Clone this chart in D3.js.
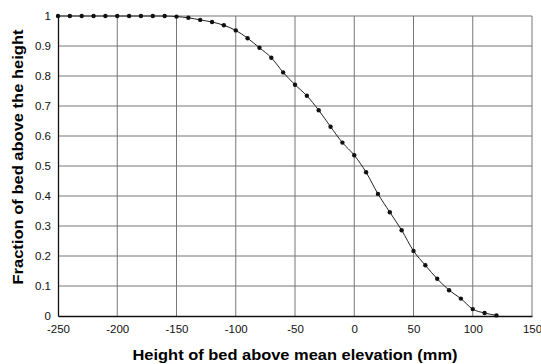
<!DOCTYPE html>
<html>
<head>
<meta charset="utf-8">
<script src="https://cdn.jsdelivr.net/npm/d3@7"></script>
<style>
  body { margin: 0; background: #fff; }
  text { font-family: "Liberation Sans", Arial, sans-serif; }
</style>
</head>
<body>
<svg width="541" height="364"></svg>
<script>
// elevation (mm) and fraction of bed above it
const heights = [-250, -240, -230, -220, -210, -200, -190, -180, -170, -160,
  -150, -140, -130, -120, -110, -100, -90, -80, -70, -60, -50, -40, -30, -20, -10,
  0, 10, 20, 30, 40, 50, 60, 70, 80, 90, 100, 110, 120];
const fractions = [1, 1, 1, 1, 1, 1, 1, 1, 1, 1,
  0.998, 0.994, 0.987, 0.98, 0.969, 0.952, 0.926, 0.894, 0.861, 0.812, 0.771, 0.734, 0.686, 0.631, 0.578,
  0.536, 0.479, 0.407, 0.346, 0.286, 0.217, 0.169, 0.124, 0.086, 0.058, 0.023, 0.01, 0.002];
const xTicks = [-250, -200, -150, -100, -50, 0, 50, 100, 150];
const yTicks = [0, 0.1, 0.2, 0.3, 0.4, 0.5, 0.6, 0.7, 0.8, 0.9, 1];

const svg = d3.select("svg");
const data = heights.map((h, i) => ({h: h, f: fractions[i]}));

const x = d3.scaleLinear().domain([-250, 150]).range([58, 532]);
const y = d3.scaleLinear().domain([0, 1]).range([316, 16]);

// grid
svg.append("g").selectAll("line")
    .data(yTicks.slice(1))
    .enter().append("line")
    .attr("x1", x(-250)).attr("x2", x(150))
    .attr("y1", d => y(d)).attr("y2", d => y(d))
    .attr("stroke", "#777").attr("stroke-width", 1);

svg.append("g").selectAll("line")
    .data(xTicks.slice(1))
    .enter().append("line")
    .attr("x1", d => x(d)).attr("x2", d => x(d))
    .attr("y1", y(0)).attr("y2", y(1))
    .attr("stroke", "#777").attr("stroke-width", 1);

// axes
const xAxis = svg.append("g")
    .attr("transform", `translate(0,${y(0)})`)
    .call(d3.axisBottom(x).tickValues(xTicks).tickSize(0).tickFormat(d => String(d)));
const yAxis = svg.append("g")
    .attr("transform", `translate(${x(-250)},0)`)
    .call(d3.axisLeft(y).tickValues(yTicks).tickSize(0).tickFormat(d => d === 0 || d === 1 ? String(d) : d3.format(".1f")(d)));

[xAxis, yAxis].forEach(a => {
  a.select(".domain").attr("stroke", "#111").attr("stroke-width", 1.3);
  a.selectAll(".tick text")
      .style("font-size", "11.5px")
      .style("font-family", "'Liberation Sans', Arial, sans-serif")
      .attr("fill", "#111");
});
xAxis.selectAll(".tick text").attr("dy", "0.71em").attr("y", 9);
yAxis.selectAll(".tick text").attr("x", -7);

// curve
svg.append("path")
    .datum(data)
    .attr("fill", "none")
    .attr("stroke", "#222")
    .attr("stroke-width", 1)
    .attr("d", d3.line().x(d => x(d.h)).y(d => y(d.f)).curve(d3.curveMonotoneX));

svg.append("g").selectAll("circle")
    .data(data)
    .enter().append("circle")
    .attr("cx", d => x(d.h))
    .attr("cy", d => y(d.f))
    .attr("r", 2.2)
    .attr("fill", "#111");

// labels
svg.append("text")
    .attr("x", 295)
    .attr("y", 360)
    .attr("text-anchor", "middle")
    .attr("textLength", 325)
    .attr("lengthAdjust", "spacingAndGlyphs")
    .style("font-size", "14.5px")
    .style("font-weight", "bold")
    .text("Height of bed above mean elevation (mm)");

svg.append("text")
    .attr("transform", "translate(23,157) rotate(-90)")
    .attr("text-anchor", "middle")
    .attr("textLength", 255)
    .attr("lengthAdjust", "spacingAndGlyphs")
    .style("font-size", "14.5px")
    .style("font-weight", "bold")
    .text("Fraction of bed above the height");
</script>
</body>
</html>
